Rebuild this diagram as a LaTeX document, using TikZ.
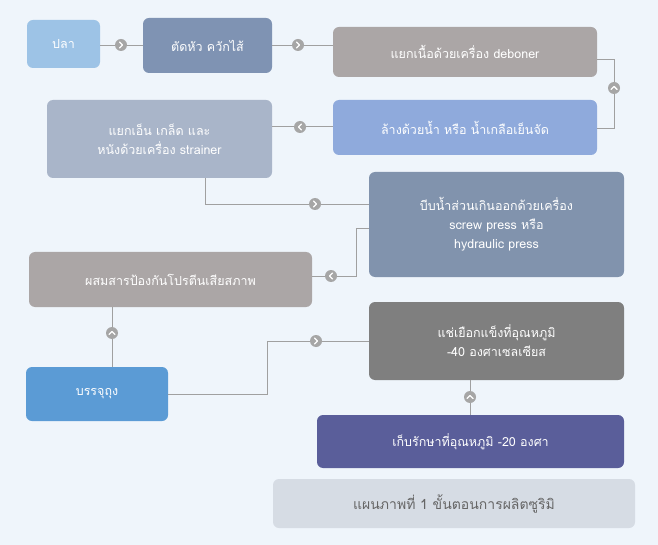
\documentclass[tikz,border=0pt]{standalone}
\usepackage{fontspec}
\setmainfont[Script=Thai]{Loma}
\definecolor{bg}{HTML}{EFF5FB}
\definecolor{ln}{HTML}{A0A0A0}
\definecolor{mk}{HTML}{A6A6A6}
\definecolor{c1}{HTML}{9DC3E6}
\definecolor{c2}{HTML}{7F93B3}
\definecolor{c3}{HTML}{ABA6A6}
\definecolor{c4}{HTML}{8FAADC}
\definecolor{c5}{HTML}{A9B5C9}
\definecolor{c6}{HTML}{8193AD}
\definecolor{c7}{HTML}{7F7F7F}
\definecolor{c8}{HTML}{5B9BD5}
\definecolor{c9}{HTML}{5A5E9A}
\definecolor{capc}{HTML}{D6DCE4}
\newcommand\chev[3]{\node[circle,fill=mk,minimum size=12pt,inner sep=0pt] at (#1,#2) {};
 \draw[white,line width=1.4pt,line cap=round,line join=round,rotate around={#3:(#1,#2)}] (#1-1.5,#2-3) -- (#1+1.5,#2) -- (#1-1.5,#2+3);}
\begin{document}
\begin{tikzpicture}[x=1pt,y=-1pt,
 box/.style={text=white,align=center,font=\fontsize{12.5}{19}\selectfont,inner sep=0pt},
 conn/.style={draw=ln,line width=0.8pt}]
\fill[bg] (0,0) rectangle (658,545);
\useasboundingbox (0,0) rectangle (658,545);
\newcommand\bx[7]{\fill[#6,rounded corners=6pt] (#2,#3) rectangle (#4,#5); \node[box] (#1) at ({(#2+#4)/2},{(#3+#5)/2}) {#7};}
\bx{a}{27}{20}{100}{68}{c1}{ปลา}
\bx{b}{143}{18}{272}{73}{c2}{ตัดหัว ควักไส้}
\bx{c}{333}{27}{597}{77}{c3}{แยกเนื้อด้วยเครื่อง deboner}
\bx{d}{333}{100}{597}{155}{c4}{ล้างด้วยน้ำ หรือ น้ำเกลือเย็นจัด}
\bx{e}{47}{100}{272}{178}{c5}{แยกเอ็น เกล็ด และ\\หนังด้วยเครื่อง strainer}
\bx{f}{369}{172}{624}{277}{c6}{บีบน้ำส่วนเกินออกด้วยเครื่อง\\screw press หรือ\\hydraulic press}
\bx{g}{29}{252}{312}{307}{c3}{ผสมสารป้องกันโปรตีนเสียสภาพ}
\bx{h}{369}{302}{624}{380}{c7}{แช่เยือกแข็งที่อุณหภูมิ\\-40 องศาเซลเซียส}
\bx{i}{26}{367}{168}{421}{c8}{บรรจุถุง}
\bx{j}{317}{415}{624}{468}{c9}{เก็บรักษาที่อุณหภูมิ -20 องศา}
\fill[capc,rounded corners=6pt] (273,479) rectangle (635,528);
\node[text=black!60,font=\fontsize{14}{17}\selectfont] (k) at (454,503.5) {แผนภาพที่ 1 ขั้นตอนการผลิตซูริมิ};
\coordinate (a-r) at (100,45); \coordinate (b-l) at (143,45);
\coordinate (b-r) at (272,45); \coordinate (c-l) at (333,45);
\coordinate (c-r) at (597,59); \coordinate (d-r) at (597,128);
\coordinate (d-l) at (333,126); \coordinate (e-r) at (272,126);
\coordinate (e-b) at (205,178); \coordinate (f-l1) at (369,204);
\coordinate (f-l2) at (369,228); \coordinate (g-r) at (312,276);
\coordinate (g-b) at (112,307); \coordinate (i-t) at (112,367);
\coordinate (i-r) at (168,394); \coordinate (h-l) at (369,341);
\coordinate (h-b) at (470,380); \coordinate (j-t) at (470,415);
\draw[conn] (a-r) -- (b-l);
\draw[conn] (b-r) -- (c-l);
\draw[conn] (c-r) -- ++(17,0) |- (d-r);
\draw[conn] (d-l) -- (e-r);
\draw[conn] (e-b) |- (f-l1);
\draw[conn] (f-l2) -- ++(-13,0) |- (g-r);
\draw[conn] (g-b) -- (i-t);
\draw[conn] (i-r) -- ++(99,0) |- (h-l);
\draw[conn] (h-b) -- (j-t);
\chev{121}{45}{0}
\chev{298}{45}{0}
\chev{614}{88}{90}
\chev{300}{127}{180}
\chev{315}{204}{0}
\chev{331}{276}{180}
\chev{112}{333}{90}
\chev{316}{341}{0}
\chev{470}{397}{90}
\end{tikzpicture}
\end{document}
